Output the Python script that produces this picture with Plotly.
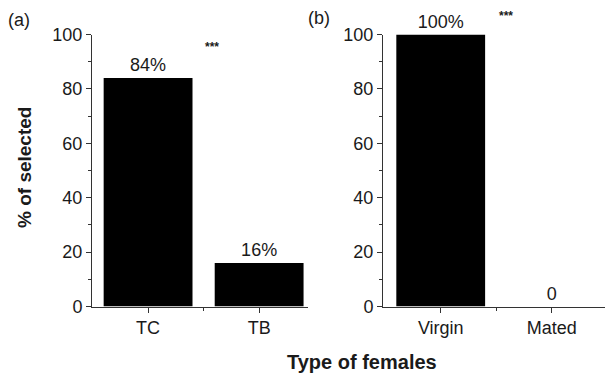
import plotly.graph_objects as go

# ---- data ----
cats_a = ["TC", "TB"]
vals_a = [84, 16]
labels_a = ["84%", "16%"]

cats_b = ["Virgin", "Mated"]
vals_b = [100, 0]
labels_b = ["100%", "0"]

y_ticks = [0, 20, 40, 60, 80, 100]

W, H = 610, 377
FONT = "Liberation Sans, Arial, sans-serif"
TXT = "#1a1a1a"
AX = "#333333"

fig = go.Figure()

pos_a = list(range(len(cats_a)))
pos_b = list(range(len(cats_b)))

fig.add_trace(go.Bar(x=pos_a, y=vals_a, text=labels_a, textposition="outside",
                     cliponaxis=False, width=0.8, marker=dict(color="black", line=dict(width=0)),
                     textfont=dict(size=18, color=TXT, family=FONT),
                     xaxis="x", yaxis="y", showlegend=False, hoverinfo="skip"))
fig.add_trace(go.Bar(x=pos_b, y=vals_b, text=labels_b, textposition="outside",
                     cliponaxis=False, width=0.8, marker=dict(color="black", line=dict(width=0)),
                     textfont=dict(size=18, color=TXT, family=FONT),
                     xaxis="x2", yaxis="y2", showlegend=False, hoverinfo="skip"))

ydom = [1 - 306.5 / H, 1 - 34.5 / H]

xcommon = dict(showline=True, linecolor=AX, linewidth=1, ticks="outside", ticklen=5,
               tickcolor=AX, showgrid=False, zeroline=False, fixedrange=True, automargin=False,
               tickfont=dict(size=18, color=TXT, family=FONT),
               minor=dict(tickvals=[0.5], ticks="outside", ticklen=3, tickcolor=AX))
ycommon = dict(showline=True, linecolor=AX, linewidth=1, ticks="outside", ticklen=5,
               tickcolor=AX, showgrid=False, zeroline=False, range=[0, 100], automargin=False,
               tickvals=y_ticks, fixedrange=True,
               tickfont=dict(size=18, color=TXT, family=FONT),
               minor=dict(dtick=10, ticks="outside", ticklen=3, tickcolor=AX, showgrid=False))

fig.update_layout(
    width=W, height=H, autosize=False,
    margin=dict(l=0, r=0, t=0, b=0, pad=0, autoexpand=False),
    paper_bgcolor="white", plot_bgcolor="white",
    bargap=0.2,
    xaxis=dict(domain=[92 / W, 308 / W], range=[-0.505, 1.44], anchor="y",
               tickvals=pos_a, ticktext=cats_a, **xcommon),
    yaxis=dict(domain=ydom, anchor="x", **ycommon),
    xaxis2=dict(domain=[383 / W, 605 / W], range=[-0.52, 1.48], anchor="y2",
                tickvals=pos_b, ticktext=cats_b, **xcommon),
    yaxis2=dict(domain=ydom, anchor="x2", **ycommon),
)


def note(text, px, py, size, angle=0):
    return dict(text=text, x=px / W, y=1 - py / H, xref="paper", yref="paper",
                xanchor="center", yanchor="middle", textangle=angle,
                showarrow=False, font=dict(size=size, color=TXT, family=FONT))


ann = [
    note("(a)", 19, 20, 18),
    note("(b)", 319, 18, 18),
    note("<b>***</b>", 212, 47, 12),
    note("<b>***</b>", 506, 16, 12),
    note("<b>% of selected</b>", 24, 168, 19, angle=-90),
    note("<b>Type of females</b>", 362, 362, 20),
]
fig.update_layout(annotations=ann)

fig.write_html("out.html", config={"displayModeBar": False},
               post_script="document.body.style.margin='0';document.body.style.padding='0';")
